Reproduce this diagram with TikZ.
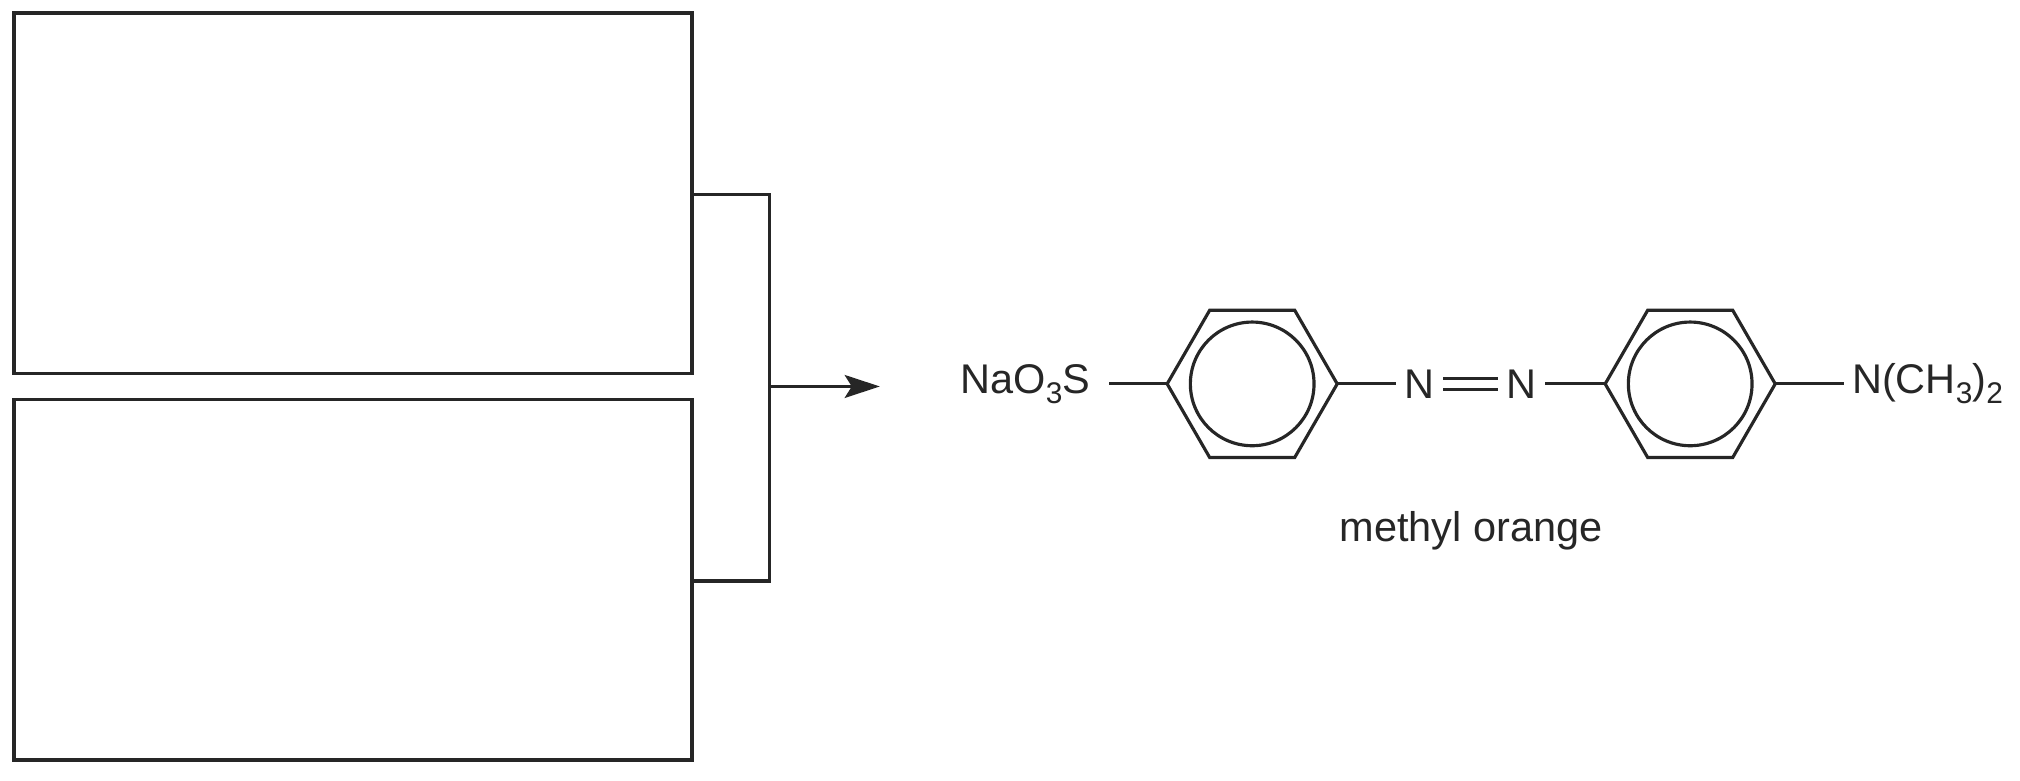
\documentclass[tikz,border=0pt]{standalone}
\usepackage{fontspec}
\setmainfont{Liberation Sans}
\usetikzlibrary{arrows.meta,calc}
\newcommand{\sub}[1]{\raisebox{-0.45ex}{\fontsize{8.5}{9}\selectfont #1}}
\begin{document}
\begin{tikzpicture}[x=0.01288cm,y=-0.01288cm,line width=0.9pt,draw=black!85]
    \tikzstyle{atom}=[inner sep=2pt,font=\fontsize{11.8}{14}\selectfont,text=black!85]
    \tikzstyle{box}=[draw,line width=1pt]
    \useasboundingbox (0,0) rectangle (1568,606);

    %%% BOXES AND BRACKET
    \draw[box] (11,10) rectangle (537,290);
    \draw[box] (11,310) rectangle (537,590);
    \coordinate (B-1) at (537,151);
    \coordinate (B-2) at (537,451);
    \coordinate (A-0) at (597,300);
    \coordinate (A-1) at (683,300);
    \draw (B-1) -- (597,151) -- (597,451) -- (B-2);
    \draw[-{Stealth[length=10pt,width=6.5pt,inset=2pt]}] (A-0) -- (A-1);

    %%% RINGS
    \foreach \name / \cx in {L/972, R/1312} {
        \foreach \i / \ang in {1/180, 2/120, 3/60, 4/0, 5/-60, 6/-120}
            \coordinate (\name-\i) at ($(\cx,298)+(\ang:66)$);
        \draw (\name-1) -- (\name-2) -- (\name-3) -- (\name-4) -- (\name-5) -- (\name-6) -- cycle;
        \draw (\cx,298) circle (48);
    }

    %%% ATOMS
    \node[atom, anchor=east] (S) at (853,298) {NaO\sub{3}S};
    \node[atom] (N-1) at (1102,298) {N};
    \node[atom] (N-2) at (1181,298) {N};
    \node[atom, anchor=west] (D) at (1431,298) {N(CH\sub{3})\sub{2}};
    \node[atom] (name) at (1142,412) {methyl orange};

    %%% BONDS
    \draw (861,298) -- (L-1);
    \draw (L-4) -- (N-1);
    \draw ([yshift=1.5pt]N-1.east) -- ([yshift=1.5pt]N-2.west);
    \draw ([yshift=-1.5pt]N-1.east) -- ([yshift=-1.5pt]N-2.west);
    \draw (N-2) -- (R-1);
    \draw (R-4) -- (D.west);
\end{tikzpicture}
\end{document}
